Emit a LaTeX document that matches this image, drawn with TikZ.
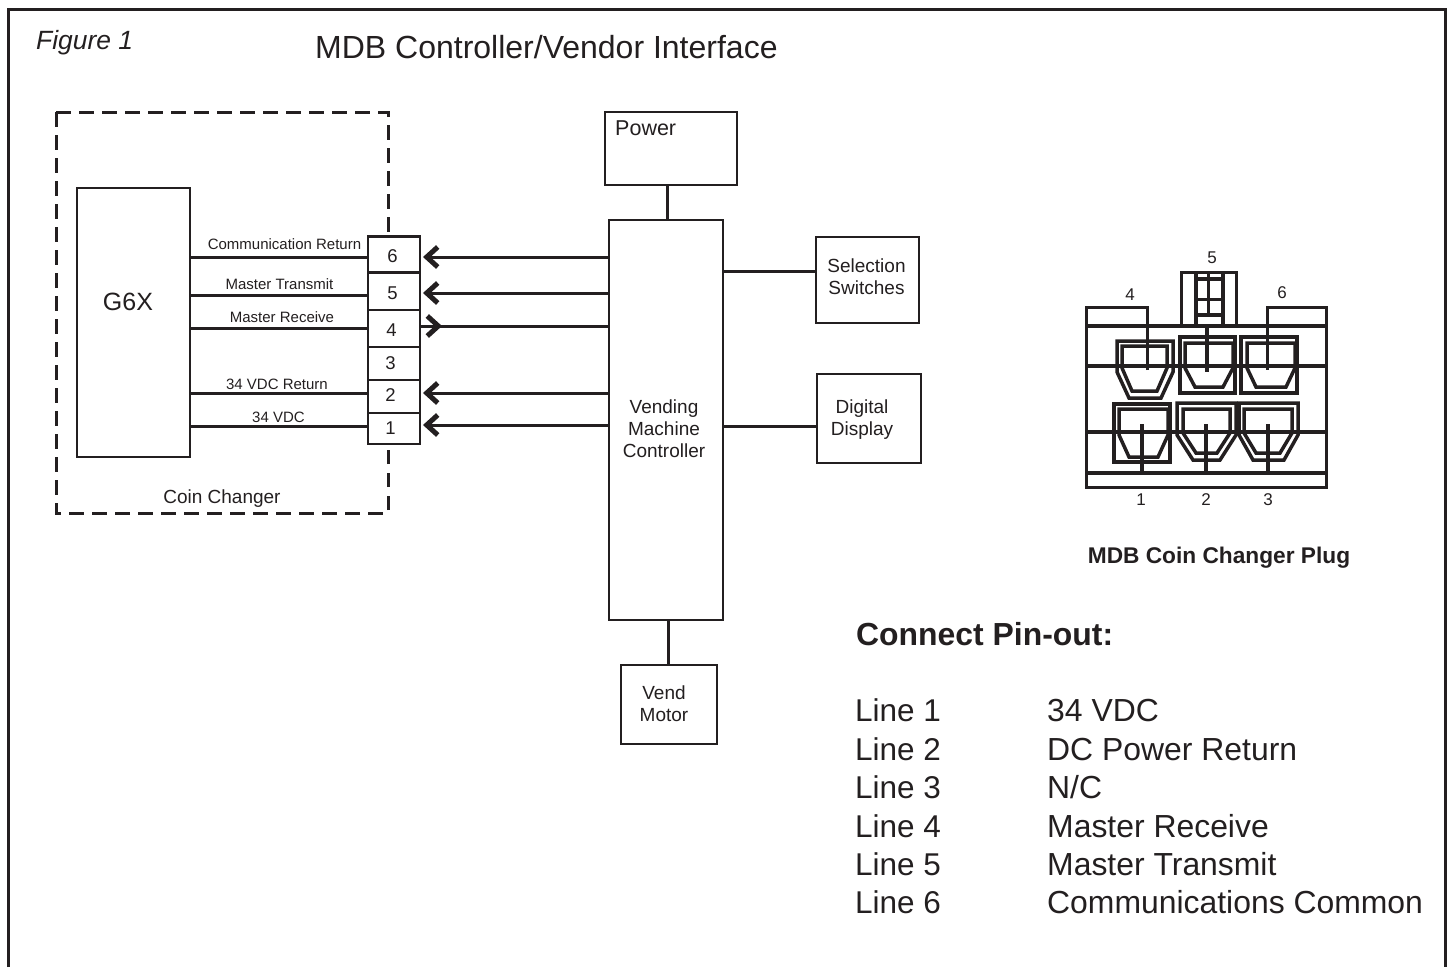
\documentclass[tikz,border=0pt]{standalone}
\usepackage{fontspec}
\setmainfont{Liberation Sans}
\usetikzlibrary{arrows.meta}
\newcommand{\fs}[1]{\fontsize{#1pt}{1.16\dimexpr#1pt\relax}\selectfont}
\newcommand{\hexshape}[7]{\draw[plug,line width=#7pt] (#1,#3) -- (#2,#3) -- (#2,#4) -- ({#1+#2-#6},#5) -- (#6,#5) -- (#1,#4) -- cycle;}
\definecolor{ink}{HTML}{231F20}
\tikzset{
 x=1pt,y=-1pt,
 every node/.style={text=ink},
 box/.style={draw=ink,line width=2.8pt,fill=white,align=center,inner sep=0pt,outer sep=0pt},
 pinbox/.style={draw=ink,line width=2.8pt,fill=white,inner sep=0pt,outer sep=0pt,minimum width=52pt},
 lab/.style={font=\fs{19},align=center,inner sep=0pt},
 pintext/.style={font=\fs{18.5},inner sep=0pt},
 wire/.style={draw=ink,line width=3pt},
 barb/.style={draw=ink,line width=3pt,-{Straight Barb[length=11pt,width=20pt,line width=5pt]}},
 dash box/.style={draw=ink,line width=3pt,dash pattern=on 14.5pt off 8.5pt},
 plug/.style={draw=ink,line width=3.5pt,line join=miter},
 wl/.style={font=\fs{15},inner sep=0pt,anchor=base},
 pl/.style={font=\fs{17},inner sep=0pt,anchor=base},
 tx/.style={font=\fs{31.9},inner sep=0pt,anchor=base west},
 ln/.style={font=\fs{31.5},inner sep=0pt,anchor=base west},
}
\begin{document}
\begin{tikzpicture}
\useasboundingbox (0,0) rectangle (1448,967);
\coordinate (bl) at (8.5,967); \coordinate (tl) at (8.5,9.5); \coordinate (tr) at (1445.5,9.5); \coordinate (br) at (1445.5,967);
\draw[ink,line width=3pt] (bl) -- (tl) -- (tr) -- (br);
\node[font=\fs{26.4}\itshape,inner sep=0pt,anchor=base west] (fig) at (36,49) {Figure 1};
\node[font=\fs{32},inner sep=0pt,anchor=base west] (title) at (315,58) {MDB Controller/Vendor Interface};
% coin changer
\coordinate (cc1) at (388,237); \coordinate (cc2) at (388,112); \coordinate (cc3) at (56,112); \coordinate (cc4) at (56,513); \coordinate (cc5) at (388,513); \coordinate (cc6) at (388,445);
\draw[dash box] (cc3) -- (cc2) -- (cc1);
\draw[dash box] (cc3) -- (cc4) -- (cc5) -- (cc6);
\node[lab,anchor=base] (cctext) at (222,503) {Coin Changer};
\node[box,minimum width=113pt,minimum height=269pt] (g6x) at (133.5,322.5) {};
\node[font=\fs{25},inner sep=0pt] (g6xtext) at (128,302) {G6X};
% pins
\node[pinbox,minimum height=36pt] (p6) at (394,254.5) {};
\node[pinbox,minimum height=38pt] (p5) at (394,291.5) {};
\node[pinbox,minimum height=37pt] (p4) at (394,328.5) {};
\node[pinbox,minimum height=33pt] (p3) at (394,363.5) {};
\node[pinbox,minimum height=33pt] (p2) at (394,396.5) {};
\node[pinbox,minimum height=31pt] (p1) at (394,428.5) {};
\node[pintext] (t6) at (392.5,256.5) {6};
\node[pintext] (t5) at (392.5,293.5) {5};
\node[pintext] (t4) at (391.5,330) {4};
\node[pintext] (t3) at (390.5,363) {3};
\node[pintext] (t2) at (390.5,395.5) {2};
\node[pintext] (t1) at (390.5,428) {1};
% main boxes
\node[box,minimum width=132pt,minimum height=73pt] (power) at (671,148.5) {};
\node[font=\fs{21.5},inner sep=0pt,anchor=base west] (powertext) at (615,135) {Power};
\node[box,minimum width=114pt,minimum height=400pt] (vmc) at (666,420) {};
\node[lab] (vmctext) at (664,428.5) {Vending\\Machine\\Controller};
\node[box,minimum width=103pt,minimum height=86pt] (sel) at (867.5,280) {};
\node[lab] (seltext) at (866.5,277) {Selection\\Switches};
\node[box,minimum width=104pt,minimum height=89pt] (dig) at (869,418.5) {};
\node[lab] (digtext) at (862,420) {Digital\\Display};
\node[box,minimum width=96pt,minimum height=79pt] (motor) at (669,704.5) {};
\node[lab] (motortext) at (664,704) {Vend\\Motor};
% wires
\draw[wire] (power.south -| 667,0) -- (vmc.north -| 667,0);
\draw[wire] (vmc.east |- 0,271) -- (sel.west |- 0,271);
\draw[wire] (vmc.east |- 0,426) -- (dig.west |- 0,426);
\draw[wire] (vmc.south -| 668,0) -- (motor.north -| 668,0);
\draw[wire] (g6x.east |- 0,257) -- (p6.west |- 0,257);
\draw[wire] (g6x.east |- 0,295) -- (p5.west |- 0,295);
\draw[wire] (g6x.east |- 0,328) -- (p4.west |- 0,328);
\draw[wire] (g6x.east |- 0,393) -- (p2.west |- 0,393);
\draw[wire] (g6x.east |- 0,426) -- (p1.west |- 0,426);
\draw[barb] (vmc.west |- 0,257) -- ([xshift=3pt]p6.east |- 0,257);
\draw[barb] (vmc.west |- 0,293) -- ([xshift=3pt]p5.east |- 0,293);
\draw[wire] (vmc.west |- 0,326) -- (p4.east |- 0,326);
\coordinate (p4tip) at (442,326);
\draw[barb] (p4.east |- 0,326) -- (p4tip);
\draw[barb] (vmc.west |- 0,393) -- ([xshift=3pt]p2.east |- 0,393);
\draw[barb] (vmc.west |- 0,425) -- ([xshift=3pt]p1.east |- 0,425);
% wire labels
\node[wl] (l6) at (284.5,249) {Communication Return};
\node[wl] (l5) at (279.5,289) {Master Transmit};
\node[wl] (l4) at (282,322) {Master Receive};
\node[wl] (l2) at (277,389) {34 VDC Return};
\node[wl] (l1) at (278.5,422) {34 VDC};
% plug
\begin{scope}
\draw[plug] (1086,326) -- (1326,326);
\draw[plug] (1086,366) -- (1326,366);
\draw[plug] (1086,432) -- (1326,432);
\draw[plug,line width=4.5pt] (1086,473) -- (1326,473);
\draw[plug,line width=3pt] (1147,370) -- (1147,307) -- (1086,307) -- (1086,487) -- (1326,487) -- (1326,307) -- (1267,307) -- (1267,370);
\draw[plug,line width=3pt] (1181,326) -- (1181,272.5) -- (1236,272.5) -- (1236,326);
\draw[plug,line width=4pt] (1196,272) -- (1196,326); \draw[plug,line width=4pt] (1222.5,272) -- (1222.5,326);
\draw[plug] (1196,279) -- (1222,279); \draw[plug] (1196,315) -- (1222,315);
\draw[plug] (1196,299.5) -- (1222,299.5); \draw[plug] (1208.5,272) -- (1208.5,315);
% top row
\hexshape{1117}{1173}{341}{372}{398}{1129}{3.5}
\hexshape{1122}{1167}{346}{368}{391}{1132}{3.5}
\draw[plug] (1180,337) rectangle (1235,393);
\hexshape{1185}{1233}{343}{368}{387}{1195}{3.5}
\draw[plug] (1241,337) rectangle (1297,393);
\hexshape{1247}{1295}{343}{368}{387}{1256}{3.5}
% bottom row
\draw[plug] (1114,404) rectangle (1170,462);
\hexshape{1119}{1168}{409}{435}{457}{1129}{3.5}
\hexshape{1177}{1236}{403}{435}{460}{1193}{3.5}
\hexshape{1183}{1230}{409}{433}{453}{1196}{3.5}
\hexshape{1239}{1298}{403}{435}{460}{1253}{3.5}
\hexshape{1244}{1292}{409}{433}{453}{1256}{3.5}
% stems
\draw[plug] (1207,326) -- (1207,372);
\draw[plug] (1142,424) -- (1142,473);
\draw[plug] (1206,424) -- (1206,473);
\draw[plug] (1268,424) -- (1268,473);
\end{scope}
\node[pl] (n5) at (1212,263) {5};
\node[pl] (n4) at (1130,300) {4};
\node[pl] (n6) at (1282,298) {6};
\node[pl] (n1) at (1141,505) {1};
\node[pl] (n2) at (1206,505) {2};
\node[pl] (n3) at (1268,505) {3};
\node[font=\fs{22.7}\bfseries,inner sep=0pt,anchor=base] (plugname) at (1219,563) {MDB Coin Changer Plug};
\node[font=\fs{31.9}\bfseries,inner sep=0pt,anchor=base west] (pinhead) at (856,645) {Connect Pin-out:};
\node[ln] (a1) at (855,721) {Line 1};  \node[tx] (b1) at (1047,721) {34 VDC};
\node[ln] (a2) at (855,760) {Line 2};  \node[tx] (b2) at (1047,760) {DC Power Return};
\node[ln] (a3) at (855,798) {Line 3};  \node[tx] (b3) at (1047,798) {N/C};
\node[ln] (a4) at (855,837) {Line 4};  \node[tx] (b4) at (1047,837) {Master Receive};
\node[ln] (a5) at (855,875) {Line 5};  \node[tx] (b5) at (1047,875) {Master Transmit};
\node[ln] (a6) at (855,913) {Line 6};  \node[tx] (b6) at (1047,913) {Communications Common};
\end{tikzpicture}
\end{document}
